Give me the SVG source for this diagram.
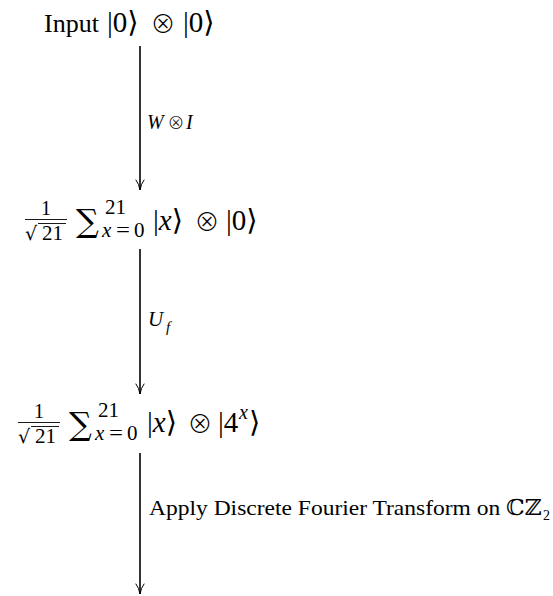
<svg xmlns="http://www.w3.org/2000/svg" width="553" height="596" viewBox="0 0 553 596">
<style>
.t{font-family:"Liberation Serif","DejaVu Serif",serif;fill:#000}
.o{font-family:"Noto Sans CJK JP","DejaVu Sans",sans-serif;font-weight:300;fill:#000;text-anchor:middle}
.m{font-family:"DejaVu Serif","Liberation Serif",serif;fill:#000}
.i{font-style:italic}
.ln{stroke:#000;stroke-width:1.6;fill:none}
.hd{stroke:#000;stroke-width:1;fill:none;stroke-linecap:round}
.bar{stroke:#000;stroke-width:0.9}
</style>
<rect width="553" height="596" fill="#fff"/>
<g id="n1">
<text class="t" x="44" y="32" font-size="26">Input</text>
<text class="t" x="107" y="32" font-size="29">|0⟩</text>
<text class="o" x="163" y="33" font-size="25">⊗</text>
<text class="t" x="183" y="32" font-size="29">|0⟩</text>
</g>
<g id="n2">
<text class="t" x="46" y="215" font-size="20" text-anchor="middle">1</text>
<line class="bar" x1="25" y1="219.5" x2="67" y2="219.5"/>
<text class="m" x="25" y="240" font-size="19">√</text>
<line class="bar" x1="38" y1="223.5" x2="66" y2="223.5"/>
<text class="t" x="42" y="240" font-size="21">21</text>
<text class="m" x="76" y="232" font-size="32">∑</text>
<text class="t" x="105" y="214" font-size="21">21</text>
<text class="t i" x="102" y="237" font-size="21">x</text>
<text class="t" x="116" y="237" font-size="21" textLength="14" lengthAdjust="spacingAndGlyphs">=</text>
<text class="t" x="134" y="237" font-size="21">0</text>
<text class="t" x="153" y="230" font-size="29">|<tspan class="i">x</tspan>⟩</text>
<text class="o" x="207" y="231" font-size="25">⊗</text>
<text class="t" x="226" y="230" font-size="29">|0⟩</text>
</g>
<g id="n3">
<text class="t" x="39" y="418" font-size="20" text-anchor="middle">1</text>
<line class="bar" x1="18" y1="422.5" x2="60" y2="422.5"/>
<text class="m" x="18" y="443" font-size="19">√</text>
<line class="bar" x1="31" y1="426.5" x2="59" y2="426.5"/>
<text class="t" x="35" y="443" font-size="21">21</text>
<text class="m" x="69" y="435" font-size="32">∑</text>
<text class="t" x="98" y="417" font-size="21">21</text>
<text class="t i" x="95" y="440" font-size="21">x</text>
<text class="t" x="109" y="440" font-size="21" textLength="14" lengthAdjust="spacingAndGlyphs">=</text>
<text class="t" x="127" y="440" font-size="21">0</text>
<text class="t" x="147" y="432" font-size="29">|<tspan class="i">x</tspan>⟩</text>
<text class="o" x="200" y="433" font-size="25">⊗</text>
<text class="t" x="218" y="432" font-size="29">|4</text>
<text class="t i" x="239" y="419" font-size="20">x</text>
<text class="t" x="249" y="432" font-size="29">⟩</text>
</g>
<g id="connectors">
<path class="ln" d="M140 46 V190"/>
<path class="hd" d="M136 180 Q139 184 140 190 Q141 184 144 180"/>
<path class="ln" d="M140 249 V394"/>
<path class="hd" d="M136 384 Q139 388 140 394 Q141 388 144 384"/>
<path class="ln" d="M140 453 V594"/>
<path class="hd" d="M136 584 Q139 588 140 594 Q141 588 144 584"/>
<text class="t i" x="147" y="129" font-size="20">W</text>
<text class="o" x="176" y="129" font-size="17">⊗</text>
<text class="t i" x="186" y="129" font-size="20">I</text>
<text class="t i" x="148" y="326" font-size="21">U</text>
<text class="t i" x="166" y="332" font-size="15">f</text>
<text class="t" x="149" y="515" font-size="22" textLength="393" lengthAdjust="spacingAndGlyphs">Apply Discrete Fourier Transform on <tspan font-family="DejaVu Serif, DejaVu Sans, sans-serif">ℂℤ</tspan></text>
<text class="t" x="543" y="520" font-size="14">2</text>
</g>
</svg>
